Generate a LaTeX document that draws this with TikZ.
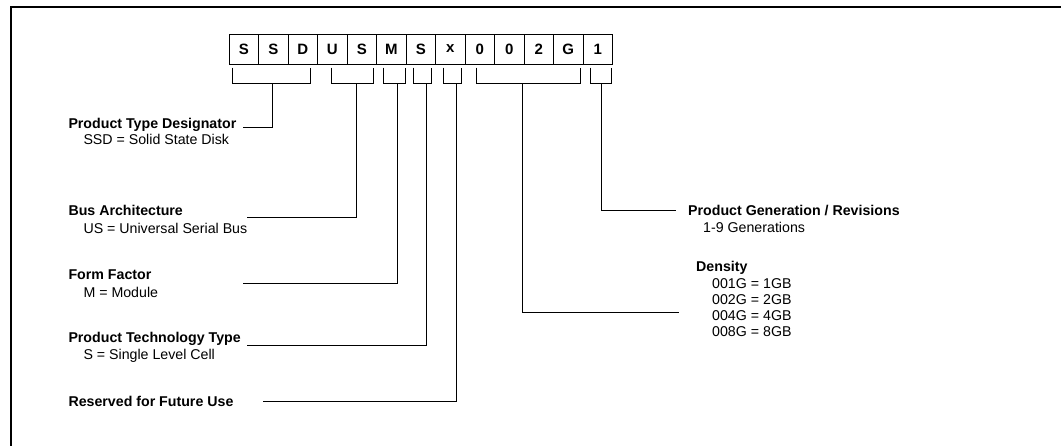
\documentclass[tikz,border=0pt]{standalone}
\usepackage{fontspec}
\setmainfont{Liberation Sans}
\begin{document}
\begin{tikzpicture}[x=1pt,y=-1pt,
  charbox/.style={draw,line width=0.8pt,minimum width=29.5pt,minimum height=30pt,inner sep=0pt,
    font=\fontsize{15}{17}\selectfont\bfseries},
  title/.style={anchor=base west,inner sep=0pt,font=\fontsize{14.2}{17}\selectfont\bfseries},
  sub/.style={anchor=base west,inner sep=0pt,font=\fontsize{14.2}{17}\selectfont},
  conn/.style={line width=0.9pt},
  brk/.style={line width=0.9pt}]
\useasboundingbox (0,0) rectangle (1061,445);
% frame
\draw[line width=2.4pt] (11,446) -- (11,7) -- (1062,7);
% character boxes
\foreach \c [count=\i from 0] in {S,S,D,U,S,M,S,x,0,0,2,G,1}
  \node[charbox] (b\i) at ({243.75+29.5*\i},49) {\c};
% brackets
\draw[brk] (232.5,67.5) -- (232.5,83) -- (310.5,83) -- (310.5,67.5);
\draw[brk] (331,67.5) -- (331,83) -- (373.5,83) -- (373.5,67.5);
\draw[brk] (383.5,67.5) -- (383.5,83) -- (405,83) -- (405,67.5);
\draw[brk] (413.5,67.5) -- (413.5,83) -- (431,83) -- (431,67.5);
\draw[brk] (443.5,67.5) -- (443.5,83) -- (461.5,83) -- (461.5,67.5);
\draw[brk] (476,67.5) -- (476,83) -- (580.5,83) -- (580.5,67.5);
\draw[brk] (590.5,67.5) -- (590.5,83) -- (611.5,83) -- (611.5,67.5);
% stem tops
\coordinate (s0) at (272.3,83);
\coordinate (s1) at (356.7,83);
\coordinate (s2) at (397,83);
\coordinate (s3) at (426.5,83);
\coordinate (s4) at (456.5,83);
\coordinate (s5) at (522.5,83);
\coordinate (s6) at (601.7,83);
% left labels
\node[title] (t0) at (68.3,128.5) {Product Type Designator};
\node[sub]   (u0) at (83.3,144.5) {SSD = Solid State Disk};
\node[title] (t1) at (68.3,215) {Bus Architecture};
\node[sub]   (u1) at (83.3,233.5) {US = Universal Serial Bus};
\node[title] (t2) at (68.3,279) {Form Factor};
\node[sub]   (u2) at (83.3,297) {M = Module};
\node[title] (t3) at (68.3,342.5) {Product Technology Type};
\node[sub]   (u3) at (83.3,359.5) {S = Single Level Cell};
\node[title] (t4) at (68.3,406) {Reserved for Future Use};
% right labels
\node[title] (t5) at (696,271.5) {Density};
\node[sub]   (u5a) at (712,288) {001G = 1GB};
\node[sub]   (u5b) at (712,304) {002G = 2GB};
\node[sub]   (u5c) at (712,320) {004G = 4GB};
\node[sub]   (u5d) at (712,336) {008G = 8GB};
\node[title] (t6) at (688,215.5) {Product Generation / Revisions};
\node[sub]   (u6) at (703,232) {1-9 Generations};
% connector ends
\coordinate (e0) at (243.3,127);
\coordinate (e1) at (247.3,217);
\coordinate (e2) at (243,283);
\coordinate (e3) at (247,345);
\coordinate (e4) at (262.7,401);
\coordinate (e5) at (679,312);
\coordinate (e6) at (676,210);
% connectors
\foreach \k in {0,...,6} \draw[conn] (s\k) |- (e\k);
\end{tikzpicture}
\end{document}
